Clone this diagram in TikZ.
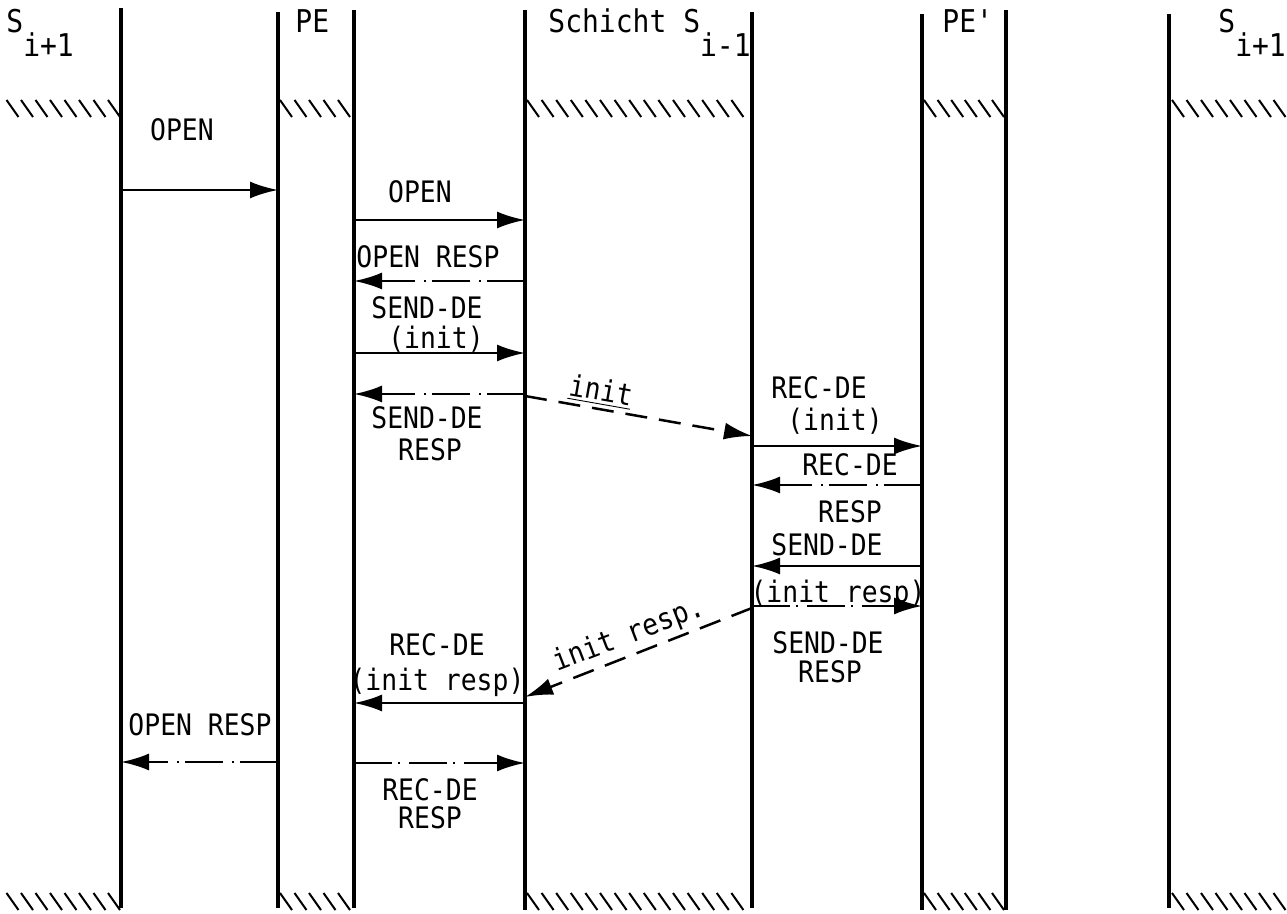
\documentclass[tikz,border=0pt]{standalone}
\usepackage{fontspec}
\newfontfamily\monofont{DejaVu Sans Mono}
\usetikzlibrary{arrows.meta}
\newcommand{\tall}[1]{\scalebox{1}[1.12]{#1}}
\begin{document}
\begin{tikzpicture}[x=0.5pt,y=-0.5pt,
  life/.style={line width=2pt},
  hatchline/.style={line width=1pt},
  msg/.style={line width=1.25pt,-{Latex[length=14pt,width=8.5pt]}},
  req/.style={msg},
  resp/.style={msg,dash pattern=on 19pt off 3pt on 1pt off 4.5pt},
  net/.style={msg,dash pattern=on 11pt off 6pt},
  lbl/.style={font=\monofont\fontsize{13.2pt}{15pt}\selectfont,inner sep=0pt,text height=10.8pt,text depth=0pt,anchor=center},
  head/.style={font=\monofont\fontsize{14pt}{16pt}\selectfont,inner sep=0pt,anchor=base west},
]
\useasboundingbox (0,0) rectangle (1287,914);
% lifelines
\coordinate (A) at (121,0);
\coordinate (B1) at (278,0);
\coordinate (B2) at (354,0);
\coordinate (C1) at (525,0);
\coordinate (C2) at (752,0);
\coordinate (D1) at (922,0);
\coordinate (D2) at (1006,0);
\coordinate (E) at (1169,0);
\draw[life] (A |- 0,8) -- (A |- 0,908);
\draw[life] (B1 |- 0,12) -- (B1 |- 0,908);
\draw[life] (B2 |- 0,10) -- (B2 |- 0,908);
\draw[life] (C1 |- 0,10) -- (C1 |- 0,910);
\draw[life] (C2 |- 0,12) -- (C2 |- 0,908);
\draw[life] (D1 |- 0,14) -- (D1 |- 0,910);
\draw[life] (D2 |- 0,10) -- (D2 |- 0,910);
\draw[life] (E |- 0,14) -- (E |- 0,908);
% hatching top and bottom
\foreach \y in {100,893}{
  \foreach \k in {0,...,7} \draw[hatchline] (108-14.5*\k,\y) -- ++(12,17);
  \foreach \k in {0,...,4} \draw[hatchline] (280+14.5*\k,\y) -- ++(12,17);
  \foreach \k in {0,...,14} \draw[hatchline] (527+14.6*\k,\y) -- ++(12,17);
  \foreach \k in {0,...,5} \draw[hatchline] (924+13.6*\k,\y) -- ++(12,17);
  \foreach \k in {0,...,7} \draw[hatchline] (1172+14.5*\k,\y) -- ++(12,17);
}
% headings
\node[head] (h1) at (6,33) {\tall{S}\raisebox{-12pt}{\tall{i+1}}};
\node[head] (h2) at (295,33) {\tall{PE}};
\node[head] (h3) at (548,33) {\tall{Schicht S}\raisebox{-12pt}{\tall{i-1}}};
\node[head] (h4) at (942,33) {\tall{PE'}};
\node[head] (h5) at (1218,33) {\tall{S}\raisebox{-12pt}{\tall{i+1}}};
% messages
\draw[req]  (A |- 0,190) -- (B1 |- 0,190);
\node[lbl] (l1) at (182,130) {\tall{OPEN}};
\draw[req]  (B2 |- 0,220) -- (C1 |- 0,220);
\node[lbl] (l2) at (420,192) {\tall{OPEN}};
\draw[resp] (C1 |- 0,281) -- (B2 |- 0,281);
\node[lbl] (l3) at (428,257) {\tall{OPEN RESP}};
\draw[req]  (B2 |- 0,353) -- (C1 |- 0,353);
\node[lbl] (l4a) at (427,308) {\tall{SEND-DE}};
\node[lbl] (l4b) at (436,338) {\tall{(init)}};
\draw[resp] (C1 |- 0,394) -- (B2 |- 0,394);
\node[lbl] (l5a) at (427,418) {\tall{SEND-DE}};
\node[lbl] (l5b) at (430,450) {\tall{RESP}};
\draw[net]  (C1 |- 0,396) -- (C2 |- 0,436);
\node[lbl,rotate=-10] (l6) at (601,390) {\tall{\underline{init}}};
\draw[req]  (C2 |- 0,446) -- (D1 |- 0,446);
\node[lbl] (l7a) at (819,388) {\tall{REC-DE}};
\node[lbl] (l7b) at (835,420) {\tall{(init)}};
\draw[resp] (D1 |- 0,485) -- (C2 |- 0,485);
\node[lbl] (l8a) at (850,465) {\tall{REC-DE}};
\node[lbl] (l8b) at (850,512) {\tall{RESP}};
\draw[req]  (D1 |- 0,566) -- (C2 |- 0,566);
\node[lbl] (l9a) at (827,545) {\tall{SEND-DE}};
\node[lbl] (l9b) at (838,592) {\tall{(init resp)}};
\draw[resp] (C2 |- 0,606) -- (D1 |- 0,606);
\node[lbl] (l10a) at (828,643) {\tall{SEND-DE}};
\node[lbl] (l10b) at (830,672) {\tall{RESP}};
\draw[net]  (C2 |- 0,608) -- (C1 |- 0,697);
\node[lbl,rotate=21] (l11) at (628,633) {\tall{init resp.}};
\draw[req]  (C1 |- 0,703) -- (B2 |- 0,703);
\node[lbl] (l12a) at (437,645) {\tall{REC-DE}};
\node[lbl] (l12b) at (437,680) {\tall{(init resp)}};
\draw[resp] (B1 |- 0,762) -- (A |- 0,762);
\node[lbl] (l13) at (200,725) {\tall{OPEN RESP}};
\draw[resp] (B2 |- 0,763) -- (C1 |- 0,763);
\node[lbl] (l14a) at (430,790) {\tall{REC-DE}};
\node[lbl] (l14b) at (430,818) {\tall{RESP}};
\end{tikzpicture}
\end{document}
